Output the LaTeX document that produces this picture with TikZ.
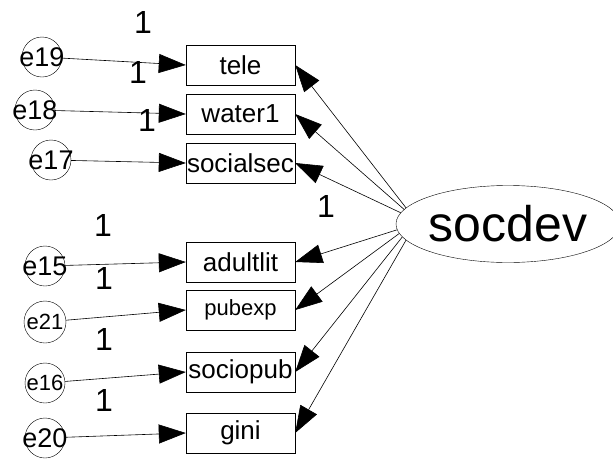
\documentclass[tikz,border=0pt]{standalone}
\usepackage{fontspec}
\setmainfont{Liberation Sans}
\usetikzlibrary{shapes.geometric, arrows.meta}
\tikzstyle{observed} = [rectangle, draw, minimum width=109pt, minimum height=40pt, inner sep=0pt, font=\fontsize{26}{28}\selectfont]
\tikzstyle{errvar} = [circle, draw, minimum size=40pt, inner sep=0pt]
\tikzstyle{errtext} = [font=\fontsize{27}{28}\selectfont, inner sep=0pt]
\tikzstyle{errsmall} = [font=\fontsize{22}{24}\selectfont, inner sep=0pt]
\tikzstyle{latent} = [ellipse, draw, minimum width=210pt, minimum height=77pt, inner sep=0pt, font=\fontsize{50}{54}\selectfont]
\tikzstyle{weight} = [font=\fontsize{32}{34}\selectfont, inner sep=0pt]
\tikzstyle{arrow} = [line width=0.6pt, -{Triangle[length=27pt, width=19pt]}]
\begin{document}
\begin{tikzpicture}[x=1pt, y=-1pt]
    \useasboundingbox (0,0) rectangle (613,466);

    % Latent factor
    \node[latent] (socdev) at (508,224) {socdev};

    % Observed variables
    \node[observed] (tele) at (240.5,65) {tele};
    \node[observed] (water1) at (240.5,114) {water1};
    \node[observed] (socialsec) at (240.5,163) {socialsec};
    \node[observed] (adultlit) at (240.5,262) {adultlit};
    \node[observed, font=\fontsize{22}{24}\selectfont] (pubexp) at (240.5,310) {pubexp};
    \node[observed] (sociopub) at (240.5,372) {sociopub};
    \node[observed] (gini) at (240.5,433) {gini};

    % Error terms
    \node[errvar, label={[errtext]center:e19}] (e19) at (42,57) {};
    \node[errvar, label={[errtext]center:e18}] (e18) at (35,110) {};
    \node[errvar, label={[errtext]center:e17}] (e17) at (51,160) {};
    \node[errvar, label={[errtext]center:e15}] (e15) at (45,266) {};
    \node[errvar, minimum size=42pt, label={[errsmall]center:e21}] (e21) at (45,322) {};
    \node[errvar, label={[errsmall]center:e16}] (e16) at (45,383) {};
    \node[errvar, label={[errtext]center:e20}] (e20) at (45,438) {};

    % Error paths
    \draw[arrow] (e19) -- (tele.west);
    \draw[arrow] (e18) -- (water1.west);
    \draw[arrow] (e17) -- (socialsec.west);
    \draw[arrow] (e15) -- (adultlit.west);
    \draw[arrow] (e21) -- (pubexp.west);
    \draw[arrow] (e16) -- (sociopub.west);
    \draw[arrow] (e20) -- (gini.west);

    % Loadings
    \draw[arrow] (socdev.171) -- (tele.east);
    \draw[arrow] (socdev.172) -- (water1.east);
    \draw[arrow] (socdev.174) -- (socialsec.east);
    \draw[arrow] (socdev.183) -- (adultlit.east);
    \draw[arrow] (socdev.185) -- (pubexp.east);
    \draw[arrow] (socdev.187) -- (sociopub.east);
    \draw[arrow] (socdev.189) -- (gini.east);

    % Fixed weights
    \node[weight] (w1) at (143,22) {1};
    \node[weight] (w2) at (138,72) {1};
    \node[weight] (w3) at (147,120) {1};
    \node[weight] (w4) at (326,206) {1};
    \node[weight] (w5) at (103,225) {1};
    \node[weight] (w6) at (104,278) {1};
    \node[weight] (w7) at (104,339) {1};
    \node[weight] (w8) at (104,400) {1};
\end{tikzpicture}
\end{document}
